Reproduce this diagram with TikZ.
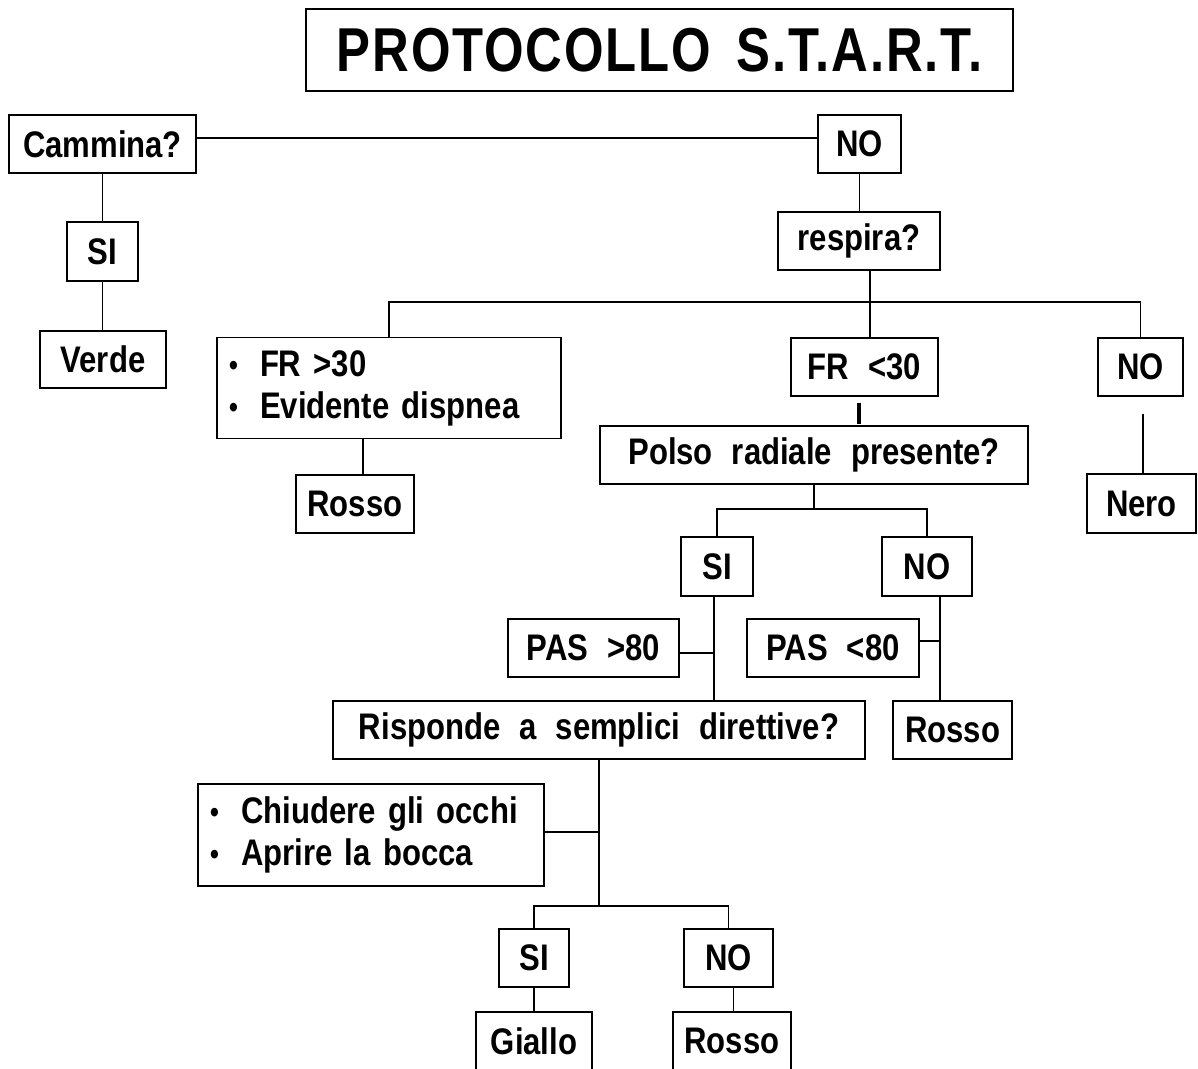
\documentclass[tikz,border=0pt]{standalone}
\usepackage{fontspec}
\usetikzlibrary{calc}
\newfontfamily\bx[FakeStretch=0.84,WordSpace=2.2]{Liberation Sans}
\newfontfamily\bxt[FakeStretch=0.82,WordSpace=1.6,LetterSpace=3]{Liberation Sans}
\newcommand\bul{\makebox[31pt][l]{\raisebox{1pt}{\fontsize{30}{30}\selectfont •}}}
\tikzset{
  box/.style={draw, line width=1.3pt, inner sep=0pt, font=\bx\bfseries\fontsize{37}{42}\selectfont},
  ln/.style={line width=1.3pt},
}
\begin{document}
\begin{tikzpicture}[x=1pt,y=-1pt]
\useasboundingbox (0,0) rectangle (1198,1068);
\clip (0,0) rectangle (1198,1068);
% nodes
\node[box, minimum width=707pt, minimum height=82pt, font=\bxt\bfseries\fontsize{62}{64}\selectfont] (title) at (659.5,50) {PROTOCOLLO S.T.A.R.T.};
\node[box, minimum width=187pt, minimum height=58pt] (cam) at (102.5,144) {Cammina?};
\node[box, minimum width=83pt, minimum height=58pt] (no1) at (859.5,144) {NO};
\node[box, minimum width=71pt, minimum height=59pt] (si1) at (102.5,251.5) {SI};
\node[box, minimum width=126pt, minimum height=57pt] (verde) at (103,359.5) {Verde};
\node[box, minimum width=162pt, minimum height=58pt] (resp) at (859,241) {respira?};
\node[box, minimum width=344pt, minimum height=101pt, text width=320pt, align=left] (fr30a) at (389,388) {\bul FR >30\\\bul Evidente dispnea};
\node[box, minimum width=147pt, minimum height=58pt] (fr30b) at (864.5,367) {FR <30};
\node[box, minimum width=85pt, minimum height=58pt] (no2) at (1140.5,367) {NO};
\node[box, minimum width=428pt, minimum height=58pt] (polso) at (814,455) {Polso radiale presente?};
\node[box, minimum width=118pt, minimum height=58pt] (rosso1) at (355,504) {Rosso};
\node[box, minimum width=109pt, minimum height=59pt] (nero) at (1141.5,503.5) {Nero};
\node[box, minimum width=72pt, minimum height=59pt] (si2) at (717,566.5) {SI};
\node[box, minimum width=90pt, minimum height=59pt] (no2b) at (927,566.5) {NO};
\node[box, minimum width=171pt, minimum height=58pt] (pas1) at (593.5,648) {PAS >80};
\node[box, minimum width=172pt, minimum height=58pt] (pas2) at (833,648) {PAS <80};
\node[box, minimum width=119pt, minimum height=58pt] (rosso2) at (952.5,730) {Rosso};
\node[box, minimum width=532pt, minimum height=58pt] (risp) at (599,730) {Risponde a semplici direttive?};
\node[box, minimum width=346pt, minimum height=102pt, text width=322pt, align=left] (chiud) at (371,835) {\bul Chiudere gli occhi\\\bul Aprire la bocca};
\node[box, minimum width=70pt, minimum height=58pt] (si3) at (534,958) {SI};
\node[box, minimum width=89pt, minimum height=58pt] (no3) at (728.5,958) {NO};
\node[box, minimum width=116pt, minimum height=58pt] (giallo) at (534,1041) {Giallo};
\node[box, minimum width=118pt, minimum height=58pt] (rosso3) at (732,1041) {Rosso};
% connectors
\draw[ln] ([yshift=6pt]cam.east) -- ([yshift=6pt]no1.west);
\draw[ln] (cam.south) -- (si1.north);
\draw[ln] (si1.south) -- (si1.south |- verde.north);
\draw[ln] (no1.south) -- (no1.south |- resp.north);
\coordinate (rb) at ([xshift=11pt]resp.south);
\draw[ln] (rb) -- (rb |- fr30b.north);
\coordinate (bar) at (870,302);
\draw[ln] (fr30a.north) |- (bar) -| (no2.north);
\draw[line width=3.5pt] ([xshift=-5.5pt,yshift=-6pt]fr30b.south) -- ([xshift=-5.5pt,yshift=1pt]fr30b.south |- polso.north);
\coordinate (fa) at ([xshift=-26pt]fr30a.south);
\draw[ln] (fa) -- (fa |- rosso1.north);
\coordinate (nb) at ([xshift=2.5pt,yshift=-17pt]no2.south);
\draw[ln] (nb) -- (nb |- nero.north);
\coordinate (pj) at (814,509);
\draw[ln] (polso.south) -- (pj);
\draw[ln] (si2.north) |- (pj) -| (no2b.north);
\coordinate (sl) at ([xshift=-3pt]si2.south);
\draw[ln] (sl) -- (sl |- risp.north);
\coordinate (p1e) at ([yshift=-5pt]pas1.east);
\draw[ln] (p1e) -- (p1e -| sl);
\coordinate (nl) at ([xshift=13pt]no2b.south);
\draw[ln] (nl) -- (nl |- rosso2.north);
\coordinate (p2e) at ([xshift=-2pt,yshift=7pt]pas2.east);
\draw[ln] (p2e) -- (p2e -| nl);
\coordinate (rj) at (599,906);
\draw[ln] (risp.south) -- (rj);
\draw[ln] (si3.north) |- (rj) -| (no3.north);
\coordinate (ce) at ([yshift=3pt]chiud.east);
\draw[ln] (ce) -- (ce -| rj);
\draw[ln] (si3.south) -- (si3.south |- giallo.north);
\coordinate (n3) at ([xshift=5pt]no3.south);
\draw[ln] (n3) -- (n3 |- rosso3.north);
\end{tikzpicture}
\end{document}
